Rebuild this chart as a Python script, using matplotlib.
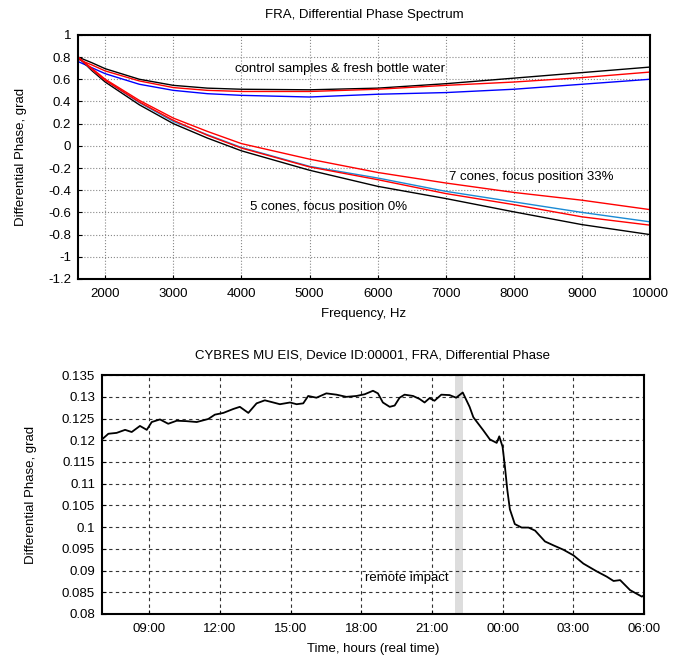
import matplotlib
matplotlib.use("Agg")
import matplotlib.pyplot as plt

plt.rcParams['font.family'] = ['Liberation Sans', 'DejaVu Sans']
plt.rcParams['font.size'] = 9.5

# --- top chart: differential phase spectrum ---
freq = [1600, 1800, 2000, 2500, 3000, 3500, 4000, 5000, 6000, 7000, 8000, 9000, 10000]

ctrl_black = [0.80, 0.75, 0.695, 0.60, 0.545, 0.52, 0.51, 0.505, 0.52, 0.56, 0.61, 0.66, 0.71]
ctrl_red = [0.78, 0.73, 0.675, 0.585, 0.525, 0.50, 0.49, 0.49, 0.51, 0.545, 0.575, 0.615, 0.665]
ctrl_blue = [0.76, 0.705, 0.65, 0.555, 0.50, 0.47, 0.455, 0.44, 0.465, 0.48, 0.51, 0.555, 0.60]

cone5_black = [0.80, 0.68, 0.575, 0.37, 0.20, 0.07, -0.045, -0.22, -0.365, -0.475, -0.595, -0.71, -0.80]
cone5_blue = [0.80, 0.69, 0.59, 0.39, 0.22, 0.10, -0.015, -0.185, -0.29, -0.41, -0.505, -0.60, -0.685]
cone5_red = [0.80, 0.69, 0.59, 0.395, 0.23, 0.095, -0.02, -0.19, -0.305, -0.43, -0.53, -0.64, -0.715]
cone7_red = [0.80, 0.70, 0.60, 0.41, 0.25, 0.13, 0.02, -0.12, -0.24, -0.335, -0.42, -0.49, -0.575]

# --- bottom chart: differential phase over time (hours, 24+ = next day) ---
hours = [7.0, 7.27, 7.62, 7.98, 8.26, 8.61, 8.9, 9.11, 9.46, 9.81, 10.17,
         10.59, 11.02, 11.51, 11.79, 12.15, 12.57, 12.85, 13.21, 13.56,
         13.91, 14.27, 14.55, 14.98, 15.26, 15.54, 15.75, 16.1, 16.52,
         16.95, 17.37, 17.8, 18.15, 18.5, 18.71, 18.92, 19.21, 19.42, 19.63,
         19.84, 20.2, 20.48, 20.69, 20.9, 21.11, 21.4, 21.75, 22.03, 22.31,
         22.6, 22.76, 23.18, 23.46, 23.75, 23.86, 24.0, 24.1, 24.2, 24.31,
         24.52, 24.81, 25.1, 25.38, 25.8, 26.16, 26.58, 27.01, 27.43, 28.0,
         28.42, 28.71, 28.99, 29.41, 29.91, 30.0]
phase = [0.1202, 0.1215, 0.1217, 0.1224, 0.1219, 0.1233, 0.1224, 0.1242,
         0.1248, 0.1238, 0.1245, 0.1244, 0.1242, 0.1249, 0.1259, 0.1263,
         0.1272, 0.1277, 0.1263, 0.1285, 0.1292, 0.1287, 0.1283, 0.1287,
         0.1283, 0.1285, 0.1302, 0.1298, 0.1308, 0.1305, 0.1300, 0.1302,
         0.1306, 0.1314, 0.1308, 0.1287, 0.1277, 0.1280, 0.1298, 0.1305,
         0.1302, 0.1295, 0.1287, 0.1297, 0.1291, 0.1305, 0.1304, 0.1298,
         0.1310, 0.1277, 0.1253, 0.1223, 0.1202, 0.1194, 0.1209, 0.1185,
         0.1139, 0.1086, 0.1041, 0.1007, 0.0999, 0.0999, 0.0992, 0.0967,
         0.0958, 0.0948, 0.0935, 0.0916, 0.0898, 0.0886, 0.0876, 0.0878,
         0.0855, 0.0840, 0.0843]
time_ticks = [9, 12, 15, 18, 21, 24, 27, 30]
time_labels = ['09:00', '12:00', '15:00', '18:00', '21:00', '00:00', '03:00', '06:00']
impact_start, impact_end = 22.0, 22.3

fig = plt.figure(figsize=(6.86, 6.58), dpi=100)

# top
ax1 = fig.add_axes([0.1137, 0.576, 0.834, 0.371])
ax1.plot(freq, ctrl_black, color='black', lw=1)
ax1.plot(freq, ctrl_red, color='red', lw=1)
ax1.plot(freq, ctrl_blue, color='blue', lw=1)
ax1.plot(freq, cone5_black, color='black', lw=1)
ax1.plot(freq, cone5_blue, color='#1a8ad4', lw=1)
ax1.plot(freq, cone5_red, color='red', lw=1)
ax1.plot(freq, cone7_red, color='red', lw=1)
ax1.set_xlim(1600, 10000)
ax1.set_ylim(-1.2, 1.0)
ax1.set_xticks(range(2000, 10001, 1000))
ax1.set_yticks([1, 0.8, 0.6, 0.4, 0.2, 0, -0.2, -0.4, -0.6, -0.8, -1, -1.2])
ax1.set_yticklabels(['1', '0.8', '0.6', '0.4', '0.2', '0', '-0.2', '-0.4',
                     '-0.6', '-0.8', '-1', '-1.2'])
ax1.grid(True, color='#888888', linestyle=':', lw=0.8)
ax1.tick_params(direction='in', length=3)
ax1.tick_params(axis='x', pad=6.5)
ax1.tick_params(axis='y', pad=5)
ax1.set_title('FRA, Differential Phase Spectrum', fontsize=9.5, pad=12)
ax1.set_xlabel('Frequency, Hz', labelpad=6)
ax1.set_ylabel('Differential Phase, grad', labelpad=15)
ax1.text(3900, 0.69, 'control samples & fresh bottle water', va='center')
ax1.text(7050, -0.28, '7 cones, focus position 33%', va='center')
ax1.text(4130, -0.555, '5 cones, focus position 0%', va='center')
for s in ax1.spines.values():
    s.set_linewidth(1.5)

# bottom
ax2 = fig.add_axes([0.1487, 0.0669, 0.790, 0.363])
ax2.axvspan(impact_start, impact_end, color='#dddddd', lw=0)
ax2.plot(hours, phase, color='black', lw=1.3)
ax2.set_xlim(7, 30)
ax2.set_ylim(0.08, 0.135)
ax2.set_xticks(time_ticks)
ax2.set_xticklabels(time_labels)
ax2.set_yticks([0.08, 0.085, 0.09, 0.095, 0.1, 0.105, 0.11, 0.115, 0.12,
                0.125, 0.13, 0.135])
ax2.set_yticklabels(['0.08', '0.085', '0.09', '0.095', '0.1', '0.105', '0.11',
                     '0.115', '0.12', '0.125', '0.13', '0.135'])
ax2.grid(True, color='#333333', linestyle=(0, (3, 3)), lw=0.8)
ax2.tick_params(direction='in', length=3)
ax2.tick_params(axis='x', pad=6.5)
ax2.tick_params(axis='y', pad=5)
ax2.set_title('CYBRES MU EIS, Device ID:00001, FRA, Differential Phase',
              fontsize=9.5, pad=12)
ax2.set_xlabel('Time, hours (real time)', labelpad=6)
ax2.set_ylabel('Differential Phase, grad', labelpad=18)
ax2.text(18.15, 0.0883, 'remote impact', va='center')
for s in ax2.spines.values():
    s.set_linewidth(1.5)

fig.savefig('out.png', dpi=100)
